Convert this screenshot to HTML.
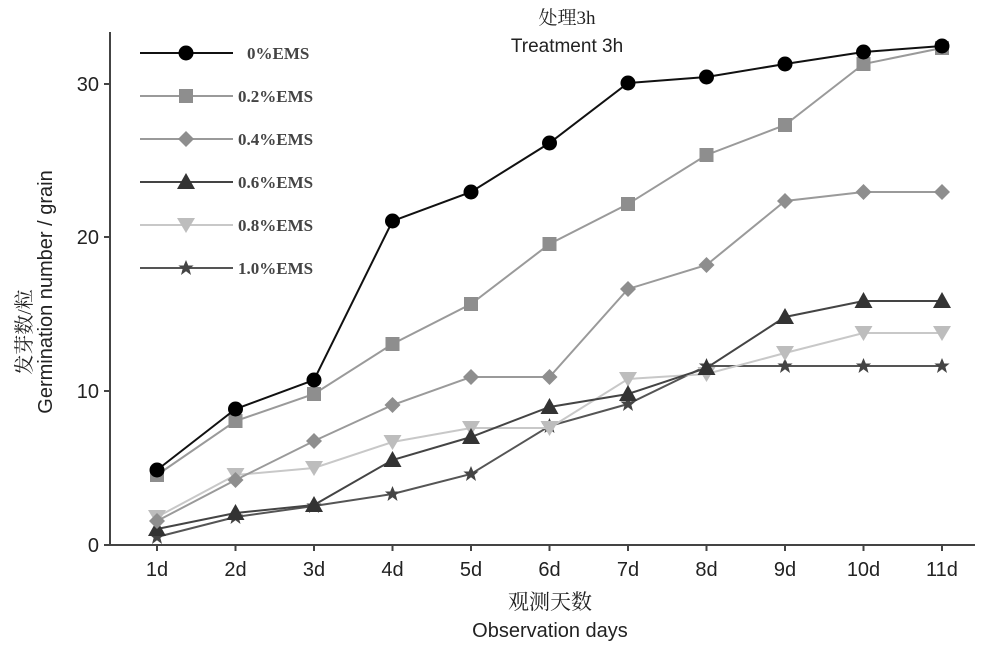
<!DOCTYPE html><html><head><style>body{margin:0;background:#fff}svg{display:block}</style></head><body>
<svg width="1000" height="652" viewBox="0 0 1000 652" font-family="Liberation Sans, sans-serif">
<defs>
<g id="st"><polygon points="0,-8 2.3,-2.5 7.6,-2.5 3.4,1 5,7 0,3.3 -5,7 -3.4,1 -7.6,-2.5 -2.3,-2.5" /></g>
</defs>
<g stroke="#444" stroke-width="2" fill="none">
<line x1="110" y1="32" x2="110" y2="545"/>
<line x1="106" y1="545" x2="975" y2="545"/>
<line x1="104" y1="84" x2="110" y2="84"/><line x1="104" y1="237" x2="110" y2="237"/><line x1="104" y1="391" x2="110" y2="391"/><line x1="104" y1="545" x2="110" y2="545"/>
</g>
<g stroke="#444" stroke-width="2" id="xt"></g>
<g font-size="20" fill="#222" text-anchor="end"><text x="99" y="91">30</text><text x="99" y="244">20</text><text x="99" y="398">10</text><text x="99" y="552">0</text></g>
<g font-size="20" fill="#222" text-anchor="middle" id="xl"></g>
<text x="567" y="24" font-size="19" text-anchor="middle" font-family="Liberation Serif, Noto Serif CJK SC, serif" fill="#222">处理3h</text>
<text x="567" y="52" font-size="19" text-anchor="middle" fill="#222">Treatment 3h</text>
<text x="550" y="609" font-size="21" text-anchor="middle" font-family="Liberation Serif, Noto Serif CJK SC, serif" fill="#222">观测天数</text>
<text x="550" y="637" font-size="20" text-anchor="middle" fill="#222">Observation days</text>
<text transform="translate(31,332) rotate(-90)" font-size="20" text-anchor="middle" font-family="Liberation Serif, Noto Serif CJK SC, serif" fill="#222">发芽数/粒</text>
<text transform="translate(52,292) rotate(-90)" font-size="20" text-anchor="middle" fill="#222">Germination number / grain</text>
<g id="series"></g>
<g id="legend" font-family="Liberation Serif, serif" font-size="17" font-weight="bold" fill="#444"></g>
</svg>
<script>
const X=i=>157+78.5*i;
const S=[
["#111","#000","c",[470,409,380,221,192,143,83,77,64,52,46]],
["#9a9a9a","#8e8e8e","s",[475,421,394,344,304,244,204,155,125,64,48]],
["#9a9a9a","#8e8e8e","d",[521,480,441,405,377,377,289,265,201,192,192]],
["#444","#333","t",[529,513,505,460,437,407,394,368,317,301,301]],
["#c8c8c8","#bdbdbd","v",[517,475,468,442,428,428,379,374,353,333,333]],
["#555","#444","*",[537,517,506,494,474,426,404,366,366,366,366]]];
const names=["0%EMS","0.2%EMS","0.4%EMS","0.6%EMS","0.8%EMS","1.0%EMS"];
function mk(t,x,y,f){
 if(t=="c")return`<circle cx="${x}" cy="${y}" r="7.5" fill="${f}"/>`;
 if(t=="s")return`<rect x="${x-7}" y="${y-7}" width="14" height="14" fill="${f}"/>`;
 if(t=="d")return`<polygon points="${x},${y-8} ${x+8},${y} ${x},${y+8} ${x-8},${y}" fill="${f}"/>`;
 if(t=="t")return`<polygon points="${x},${y-9} ${x+9},${y+7} ${x-9},${y+7}" fill="${f}"/>`;
 if(t=="v")return`<polygon points="${x},${y+8} ${x+9},${y-7} ${x-9},${y-7}" fill="${f}"/>`;
 return`<use href="#st" x="${x}" y="${y}" fill="${f}"/>`;
}
let h="";
S.slice().reverse().forEach(([lc,mc,t,d])=>{
 h+=`<polyline fill="none" stroke="${lc}" stroke-width="2" points="${d.map((y,i)=>X(i)+","+y).join(" ")}"/>`;
 d.forEach((y,i)=>h+=mk(t,X(i),y,mc));
});
document.getElementById("series").innerHTML=h;
let xt="",xl="";
for(let i=0;i<11;i++){xt+=`<line x1="${X(i)}" y1="545" x2="${X(i)}" y2="551"/>`;xl+=`<text x="${X(i)}" y="576">${i+1}d</text>`;}
document.getElementById("xt").innerHTML=xt;document.getElementById("xl").innerHTML=xl;
let lg="";
S.forEach(([lc,mc,t],k)=>{const y=53+43*k;
 lg+=`<line x1="140" y1="${y}" x2="233" y2="${y}" stroke="${lc}" stroke-width="2"/>`+mk(t,186,y,mc)+`<text x="${k==0?247:238}" y="${y+6}">${names[k]}</text>`;});
document.getElementById("legend").innerHTML=lg;
</script>
</body></html>
